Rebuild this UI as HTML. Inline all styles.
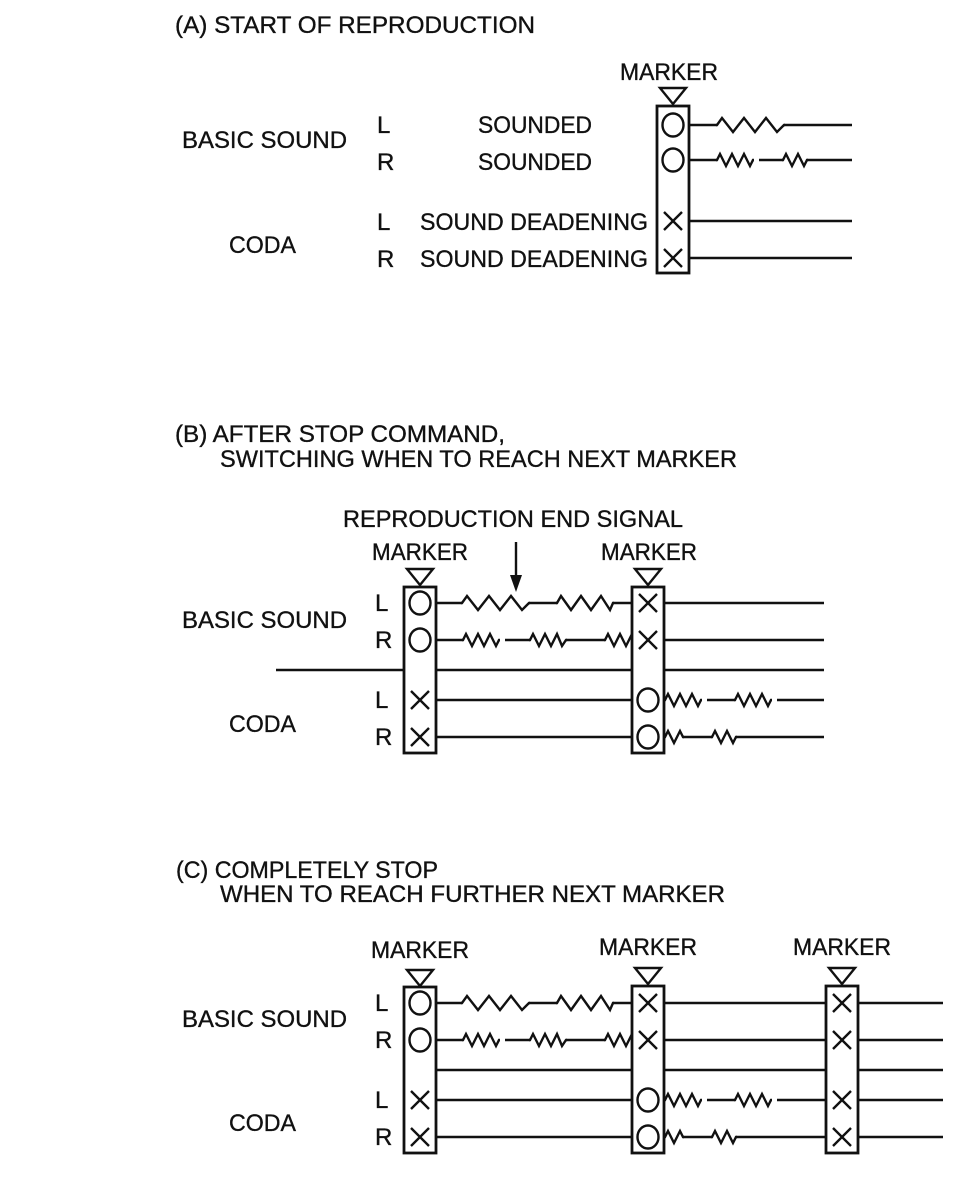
<!DOCTYPE html>
<html><head><meta charset="utf-8"><style>
html,body{margin:0;padding:0;background:#fff}
svg{display:block}
text{font-family:"Liberation Sans",sans-serif;font-size:24px;fill:#111;stroke:#111;stroke-width:0.35}
.l{stroke:#111;stroke-width:2.4;fill:none;stroke-linejoin:miter}
.b{stroke:#111;stroke-width:2.8;fill:#fff}
</style></head><body>
<svg width="958" height="1200" viewBox="0 0 958 1200" xmlns="http://www.w3.org/2000/svg">
<defs>
<path id="big" d="M-1,0 H0 l5,-7 l11,14 l11,-14 l11,14 l11,-14 l11,14 l7,-7 h1" class="l"/>
<path id="sm" d="M-1,0 H0 l3,-6 l6,12 l6,-12 l6,12 l6,-12 l6,12 l3,-6 h1" class="l"/>
<path id="sm2" d="M-1,0 H0 l3,-6 l6,12 l6,-12 l6,12 l3,-6 h1" class="l"/>
<path id="sm1" d="M-1,0 H0 l3,-6 l6,12 l6,-12 l3,6 h1" class="l"/>
<g id="o"><ellipse cx="0" cy="0" rx="10.5" ry="11.5" class="l"/></g>
<g id="x"><path d="M-9,-9 L9,9 M9,-9 L-9,9" class="l"/></g>
<path id="tri" d="M-13,-17 L13,-17 L0,-1 Z" class="l"/>
</defs>

<!-- Panel A -->
<text x="175" y="33" textLength="360" lengthAdjust="spacingAndGlyphs">(A) START OF REPRODUCTION</text>
<text x="620" y="80" textLength="98" lengthAdjust="spacingAndGlyphs">MARKER</text>
<use href="#tri" x="673" y="105"/>
<text x="182" y="148" textLength="165" lengthAdjust="spacingAndGlyphs">BASIC SOUND</text>
<text x="229" y="253" textLength="67" lengthAdjust="spacingAndGlyphs">CODA</text>
<text x="377" y="133">L</text><text x="377" y="170">R</text>
<text x="377" y="230">L</text><text x="377" y="267">R</text>
<text x="478" y="133" textLength="114" lengthAdjust="spacingAndGlyphs">SOUNDED</text>
<text x="478" y="170" textLength="114" lengthAdjust="spacingAndGlyphs">SOUNDED</text>
<text x="420" y="230" textLength="228" lengthAdjust="spacingAndGlyphs">SOUND DEADENING</text>
<text x="420" y="267" textLength="228" lengthAdjust="spacingAndGlyphs">SOUND DEADENING</text>
<rect x="657" y="106" width="32" height="167" class="b"/>
<use href="#o" x="673" y="125"/><use href="#o" x="673" y="160"/>
<use href="#x" x="673" y="221"/><use href="#x" x="673" y="258"/>
<path d="M689,125 H717 M784,125 H852 M689,160 H717 M759,160 H783 M807,160 H852 M689,221 H852 M689,258 H852" class="l"/>
<use href="#big" x="717" y="125"/>
<use href="#sm" x="717" y="160"/><use href="#sm2" x="783" y="160"/>

<!-- Panel B -->
<text x="175" y="442" textLength="330" lengthAdjust="spacingAndGlyphs">(B) AFTER STOP COMMAND,</text>
<text x="220" y="467" textLength="517" lengthAdjust="spacingAndGlyphs">SWITCHING WHEN TO REACH NEXT MARKER</text>
<text x="343" y="527" textLength="340" lengthAdjust="spacingAndGlyphs">REPRODUCTION END SIGNAL</text>
<text x="372" y="560" textLength="96" lengthAdjust="spacingAndGlyphs">MARKER</text>
<text x="601" y="560" textLength="96" lengthAdjust="spacingAndGlyphs">MARKER</text>
<path d="M516,542 V578" class="l"/><path d="M510,575 L522,575 L516,592 Z" fill="#111"/>
<use href="#tri" x="420" y="586"/><use href="#tri" x="648" y="586"/>
<text x="182" y="628" textLength="165" lengthAdjust="spacingAndGlyphs">BASIC SOUND</text>
<text x="229" y="732" textLength="67" lengthAdjust="spacingAndGlyphs">CODA</text>
<text x="375" y="611">L</text><text x="375" y="648">R</text>
<text x="375" y="708">L</text><text x="375" y="745">R</text>
<path d="M276,670 H404" class="l"/>
<path d="M436,603 H462 M529,603 H557 M613,603 H632
M436,640 H463 M505,640 H530 M566,640 H605
M436,670 H632 M436,700 H632 M436,737 H632
M664,603 H824 M664,640 H824 M664,670 H824
M707,700 H735 M777,700 H824 M683,737 H712 M736,737 H824" class="l"/>
<use href="#big" x="462" y="603"/>
<path d="M556,603 h1 l4,-7 l10,14 l10,-14 l10,14 l10,-14 l9,14 l3,-7 h1" class="l"/>
<use href="#sm" x="463" y="640"/>
<path d="M529,640 h1 l3,-6 l6,12 l6,-12 l6,12 l6,-12 l5,12 l4,-6 h1" class="l"/>
<path d="M604,640 h1 l3,-6 l6,12 l6,-12 l6,12 l6,-12" class="l"/>
<use href="#sm" x="665" y="700"/><use href="#sm" x="735" y="700"/>
<use href="#sm1" x="665" y="737"/><use href="#sm2" x="712" y="737"/>
<rect x="404" y="587" width="32" height="166" class="b"/>
<rect x="632" y="587" width="32" height="166" class="b"/>
<use href="#o" x="420" y="603"/><use href="#o" x="420" y="640"/>
<use href="#x" x="420" y="700"/><use href="#x" x="420" y="737"/>
<use href="#x" x="648" y="603"/><use href="#x" x="648" y="640"/>
<use href="#o" x="648" y="700"/><use href="#o" x="648" y="737"/>

<!-- Panel C -->
<text x="176" y="878" textLength="262" lengthAdjust="spacingAndGlyphs">(C) COMPLETELY STOP</text>
<text x="220" y="902" textLength="505" lengthAdjust="spacingAndGlyphs">WHEN TO REACH FURTHER NEXT MARKER</text>
<text x="371" y="958" textLength="98" lengthAdjust="spacingAndGlyphs">MARKER</text>
<text x="599" y="955" textLength="98" lengthAdjust="spacingAndGlyphs">MARKER</text>
<text x="793" y="955" textLength="98" lengthAdjust="spacingAndGlyphs">MARKER</text>
<use href="#tri" x="420" y="987"/><use href="#tri" x="648" y="985"/><use href="#tri" x="842" y="985"/>
<text x="182" y="1027" textLength="165" lengthAdjust="spacingAndGlyphs">BASIC SOUND</text>
<text x="229" y="1131" textLength="67" lengthAdjust="spacingAndGlyphs">CODA</text>
<text x="375" y="1011">L</text><text x="375" y="1048">R</text>
<text x="375" y="1108">L</text><text x="375" y="1145">R</text>
<path d="M436,1003 H462 M529,1003 H557 M613,1003 H632
M436,1040 H463 M505,1040 H530 M566,1040 H605
M436,1070 H632 M436,1100 H632 M436,1137 H632
M664,1003 H943 M664,1040 H943 M664,1070 H943
M707,1100 H735 M777,1100 H943 M683,1137 H712 M736,1137 H943" class="l"/>
<use href="#big" x="462" y="1003"/>
<path d="M556,1003 h1 l4,-7 l10,14 l10,-14 l10,14 l10,-14 l9,14 l3,-7 h1" class="l"/>
<use href="#sm" x="463" y="1040"/>
<path d="M529,1040 h1 l3,-6 l6,12 l6,-12 l6,12 l6,-12 l5,12 l4,-6 h1" class="l"/>
<path d="M604,1040 h1 l3,-6 l6,12 l6,-12 l6,12 l6,-12" class="l"/>
<use href="#sm" x="665" y="1100"/><use href="#sm" x="735" y="1100"/>
<use href="#sm1" x="665" y="1137"/><use href="#sm2" x="712" y="1137"/>
<rect x="404" y="987" width="32" height="166" class="b"/>
<rect x="632" y="986" width="32" height="167" class="b"/>
<rect x="826" y="986" width="32" height="167" class="b"/>
<use href="#o" x="420" y="1003"/><use href="#o" x="420" y="1040"/>
<use href="#x" x="420" y="1100"/><use href="#x" x="420" y="1137"/>
<use href="#x" x="648" y="1003"/><use href="#x" x="648" y="1040"/>
<use href="#o" x="648" y="1100"/><use href="#o" x="648" y="1137"/>
<use href="#x" x="842" y="1003"/><use href="#x" x="842" y="1040"/>
<use href="#x" x="842" y="1100"/><use href="#x" x="842" y="1137"/>
</svg>
</body></html>
